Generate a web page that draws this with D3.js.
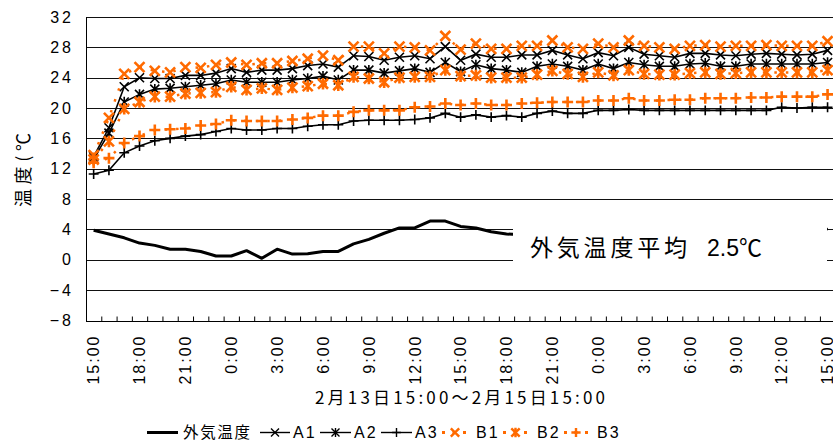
<!DOCTYPE html>
<html>
<head>
<meta charset="utf-8">
<script src="https://cdn.jsdelivr.net/npm/d3@7"></script>
<style>
  body { margin: 0; background: #fff; }
  svg { display: block; }
</style>
</head>
<body>
<svg id="chart" width="833" height="444"></svg>
<script>
// Hourly temperatures, 2/13 15:00 – 2/15 15:00 (49 readings)
const timeLabels = ["15:00","18:00","21:00","0:00","3:00","6:00","9:00","12:00","15:00",
                    "18:00","21:00","0:00","3:00","6:00","9:00","12:00","15:00"];
const yTicks = [-8, -4, 0, 4, 8, 12, 16, 20, 24, 28, 32];
const seriesNames = ["外気温度", "A1", "A2", "A3", "B1", "B2", "B3"];

const outside = [3.9,3.4,2.9,2.2,1.9,1.4,1.4,1.1,0.5,0.5,1.2,0.2,1.4,0.75,0.8,1.1,1.1,2.1,2.7,3.5,
                 4.2,4.2,5.1,5.1,4.4,4.2,3.7,3.4,3.3,3.1,2.8,2.4,2.0,1.7,1.4,1.2,1.0,0.9,0.9,1.1,
                 1.5,2.1,2.8,3.5,4.1,4.6,4.9,4.6,4.0];
const a1 = [13.6,17.4,22.8,24.0,23.9,23.9,24.3,24.3,24.6,25.2,24.7,25.0,25.0,25.2,25.6,25.8,25.4,26.9,26.8,26.3,
            26.7,26.9,26.5,28.1,26.3,27.1,26.7,26.7,27.0,27.0,27.6,27.0,26.5,27.3,26.9,28.0,27.1,26.9,26.7,27.2,
            27.2,27.0,26.9,27.1,27.2,27.1,27.0,27.1,27.6];
const a2 = [13.3,16.7,20.8,21.8,22.5,22.6,22.8,23.0,23.2,23.7,23.4,23.4,23.4,23.7,23.9,24.2,23.7,25.0,25.0,24.6,
            24.9,25.2,24.7,26.0,24.8,25.7,25.2,25.0,24.7,25.5,25.8,25.5,25.0,25.8,25.2,26.0,25.7,25.5,25.5,25.8,
            25.9,25.5,25.5,25.8,25.8,25.8,25.8,25.8,26.0];
const a3 = [11.3,11.8,14.1,15.0,15.7,16.0,16.3,16.5,16.9,17.3,17.1,17.1,17.3,17.3,17.6,17.8,17.8,18.3,18.4,18.4,
            18.4,18.5,18.7,19.3,18.8,19.1,18.8,19.0,18.8,19.3,19.6,19.3,19.3,19.7,19.7,19.8,19.7,19.7,19.7,19.7,
            19.7,19.7,19.7,19.7,19.7,20.1,20.0,20.1,20.1];
const b1 = [13.8,18.7,24.5,25.4,24.9,24.7,25.4,25.3,25.7,26.0,25.7,25.9,25.9,26.2,26.5,26.9,26.3,28.1,28.1,27.2,
            28.1,28.0,27.6,29.5,27.7,28.5,27.8,27.8,28.2,28.2,28.9,28.0,27.8,28.5,28.0,28.9,28.2,28.0,27.8,28.2,
            28.3,28.1,28.2,28.2,28.3,28.2,28.2,28.2,28.8];
const b2 = [13.2,15.6,19.9,20.8,21.5,21.5,21.9,22.0,22.1,22.8,22.4,22.6,22.4,22.7,22.9,23.2,23.0,24.1,23.9,23.4,
            24.0,24.1,24.1,25.0,24.2,24.3,24.0,24.0,24.0,24.4,24.9,24.5,24.1,24.7,24.3,25.0,24.5,24.4,24.4,24.6,
            24.7,24.5,24.6,24.7,24.7,24.7,24.7,24.7,25.0];
const b3 = [12.8,13.4,15.4,16.3,17.1,17.2,17.3,17.7,17.9,18.4,18.3,18.3,18.3,18.5,18.7,19.0,19.0,19.5,19.7,19.7,
            19.7,20.1,20.2,20.6,20.4,20.6,20.4,20.4,20.6,20.7,20.8,20.8,20.8,21.0,21.0,21.3,21.0,21.0,21.1,21.1,
            21.3,21.3,21.3,21.4,21.4,21.5,21.5,21.5,21.8];
const outsideAvg = 2.5;

const ORANGE = "#ff6a00";
const jp = "'Noto Sans CJK JP', 'Noto Sans', sans-serif";
const num = "'Liberation Sans', Arial, sans-serif";

const margin = { left: 86, top: 17 };
const plotW = 49 * 15.29;
const plotH = 303.5;

const svg = d3.select("#chart");
const g = svg.append("g").attr("transform", `translate(${margin.left},${margin.top})`);

const idx = d3.range(outside.length);
const x = d3.scaleBand().domain(idx).range([0, plotW]).padding(0);
const xc = i => x(i) + x.bandwidth() / 2;
const y = d3.scaleLinear().domain([-8, 32]).range([plotH, 0]);
const crisp = v => Math.round(v) + 0.5;

// horizontal gridlines (top one doubles as the frame)
g.append("g").selectAll("line").data(yTicks.filter(t => t > -8)).join("line")
  .attr("x1", 0).attr("x2", plotW)
  .attr("y1", d => crisp(y(d))).attr("y2", d => crisp(y(d)))
  .attr("stroke", "#111").attr("stroke-width", 1);

// y axis
const yAxis = g.append("g").call(d3.axisLeft(y).tickValues(yTicks).tickSize(0).tickPadding(12));
yAxis.select(".domain").attr("stroke", "#000").attr("d", `M0.5,0V${plotH}`);
yAxis.selectAll("text")
  .attr("font-family", num).attr("font-size", 16).attr("fill", "#000")
  .attr("letter-spacing", 3)
  .text(d => d < 0 ? "−" + Math.abs(d) : d);

// x axis: ticks on category boundaries, pointing inward
const bounds = d3.range(0, 50).map(k => k * x.step());
const xb = d3.scaleLinear().domain([0, plotW]).range([0, plotW]);
const xAxis = g.append("g").attr("transform", `translate(0,${crisp(plotH)})`)
  .call(d3.axisBottom(xb).tickValues(bounds).tickSize(-5).tickFormat(""));
xAxis.select(".domain").attr("stroke", "#000").attr("d", `M0,0H${plotW}`);
xAxis.selectAll(".tick line").attr("stroke", "#000");

// rotated time labels every third hour
g.append("g").selectAll("text").data(timeLabels).join("text")
  .attr("transform", (d, k) => `translate(${xc(k * 3)},${plotH + 14}) rotate(-90)`)
  .attr("text-anchor", "end").attr("dy", "0.36em")
  .attr("font-family", num).attr("font-size", 16).attr("letter-spacing", 2)
  .attr("fill", "#000")
  .text(d => d);

// axis titles
svg.append("text")
  .attr("x", 315).attr("y", 404)
  .attr("font-family", jp).attr("font-size", 17).attr("fill", "#000")
  .attr("textLength", 290).attr("lengthAdjust", "spacing")
  .text("2月13日15:00～2月15日15:00");
svg.append("text")
  .attr("transform", "translate(24,207) rotate(-90)")
  .attr("dy", "0.36em")
  .attr("font-family", jp).attr("font-size", 18).attr("fill", "#000")
  .attr("textLength", 74).attr("lengthAdjust", "spacing")
  .text("温度(℃");

// marker shapes
function markerPath(type, s) {
  if (type === "x") return `M${-s},${-s}L${s},${s}M${-s},${s}L${s},${-s}`;
  if (type === "star") return `M${-s},${-s}L${s},${s}M${-s},${s}L${s},${-s}M0,${-s * 1.15}L0,${s * 1.15}`;
  return `M${-s * 1.1},0L${s * 1.1},0M0,${-s * 1.1}L0,${s * 1.1}`;
}

const line = d3.line().x((d, i) => xc(i)).y(d => y(d));

// outside air temperature
g.append("path").datum(outside)
  .attr("d", line).attr("fill", "none")
  .attr("stroke", "#000").attr("stroke-width", 3).attr("stroke-linejoin", "round");

const series = [
  { name: "A1", data: a1, color: "#000", marker: "x", dash: null },
  { name: "A2", data: a2, color: "#000", marker: "star", dash: null },
  { name: "A3", data: a3, color: "#000", marker: "plus", dash: null },
  { name: "B1", data: b1, color: ORANGE, marker: "x", dash: "2.5,9" },
  { name: "B2", data: b2, color: ORANGE, marker: "star", dash: "2.5,9" },
  { name: "B3", data: b3, color: ORANGE, marker: "plus", dash: "2.5,9" }
];

series.forEach(s => {
  const orange = s.color !== "#000";
  g.append("path").datum(s.data)
    .attr("d", line).attr("fill", "none")
    .attr("stroke", s.color).attr("stroke-width", orange ? 2.5 : 1.6)
    .attr("stroke-dasharray", s.dash);
  g.append("g").selectAll("path").data(s.data).join("path")
    .attr("transform", (d, i) => `translate(${xc(i)},${y(d)})`)
    .attr("d", markerPath(s.marker, orange ? 5 : 4.5))
    .attr("fill", "none").attr("stroke", s.color)
    .attr("stroke-width", orange ? 2.6 : 1.6);
});

// average annotation box
svg.append("rect").attr("x", 513).attr("y", 213).attr("width", 314).attr("height", 64).attr("fill", "#fff");
const note = svg.append("text").attr("y", 256).attr("fill", "#000").attr("font-size", 23);
note.append("tspan").attr("x", 530).attr("font-family", jp)
  .attr("textLength", 157).attr("lengthAdjust", "spacing").text("外気温度平均");
note.append("tspan").attr("x", 707).attr("font-family", `${num}, 'Noto Sans CJK JP'`)
  .text(`${outsideAvg}℃`);

// legend
const ly = 432.5;
const leg = svg.append("g");
leg.append("line").attr("x1", 147).attr("x2", 178).attr("y1", ly).attr("y2", ly)
  .attr("stroke", "#000").attr("stroke-width", 3);
leg.append("text").attr("x", 183).attr("y", ly + 5.5)
  .attr("font-family", jp).attr("font-size", 15.5)
  .attr("textLength", 67).attr("lengthAdjust", "spacing").text(seriesNames[0]);

const legPos = [
  { x1: 260, x2: 290, tx: 293 },
  { x1: 320, x2: 351, tx: 354 },
  { x1: 381, x2: 412, tx: 415 },
  { x1: 442, x2: 468, tx: 476 },
  { x1: 503, x2: 528, tx: 537 },
  { x1: 564, x2: 588, tx: 597 }
];
series.forEach((s, k) => {
  const p = legPos[k];
  const orange = s.color !== "#000";
  leg.append("line").attr("x1", p.x1).attr("x2", p.x2).attr("y1", ly).attr("y2", ly)
    .attr("stroke", s.color).attr("stroke-width", orange ? 3 : 1.4)
    .attr("stroke-dasharray", orange ? "3,7.5" : null);
  leg.append("path").attr("transform", `translate(${(p.x1 + p.x2) / 2},${ly})`)
    .attr("d", markerPath(s.marker, orange ? 4.2 : 4))
    .attr("fill", "none").attr("stroke", s.color).attr("stroke-width", orange ? 2.4 : 1.4);
  leg.append("text").attr("x", p.tx).attr("y", ly + 5.5)
    .attr("font-family", num).attr("font-size", 16).attr("letter-spacing", 2)
    .text(seriesNames[k + 1]);
});
</script>
</body>
</html>
